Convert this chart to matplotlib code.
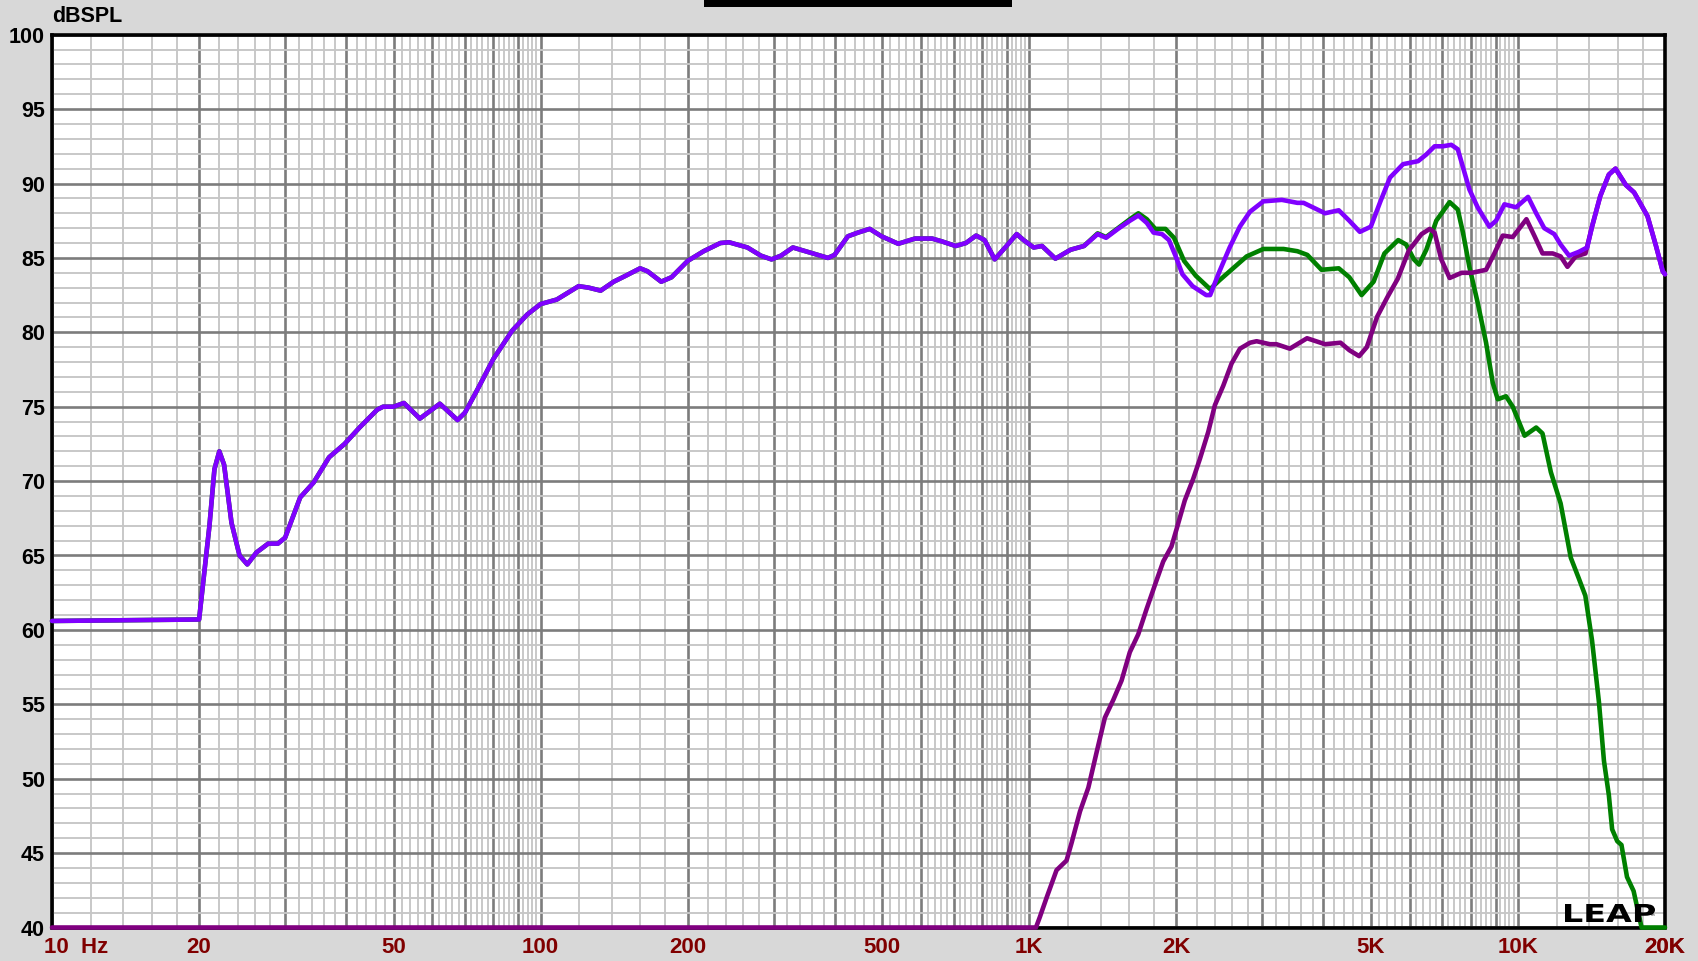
import numpy as np
import matplotlib
matplotlib.use('Agg')
import matplotlib.pyplot as plt
from matplotlib.ticker import FixedLocator, FixedFormatter, NullFormatter
from matplotlib.textpath import TextPath
from matplotlib.font_manager import FontProperties
from matplotlib.patches import PathPatch, Rectangle
from matplotlib.transforms import Affine2D

# system sum (violet)
sum_f = np.array([10, 19.9, 20.0, 21.0, 21.5, 22.0, 22.5, 23.3, 24.2, 25.1, 26.2, 27.7, 29.0, 30,
                  30.8, 32.2, 34.3, 36.9, 39.7, 42.6, 46.3, 47.6, 50, 52.5, 56.6, 62.2, 67.6, 70,
                  74.1, 80, 87.4, 93.9, 100, 107.9, 113, 119.6, 125.4, 132.7, 141.1, 149.3, 159.8,
                  165.5, 176.5, 185.3, 200, 215.6, 233.3, 242.9, 265, 282.3, 296.8, 310.4, 328.3,
                  352.3, 387.2, 399.5, 425.3, 446, 471.4, 498.6, 539.3, 583.8, 632.4, 663.7, 706.9,
                  741.9, 778.4, 810, 849.6, 898.2, 942.5, 973.4, 1021, 1062, 1131, 1215, 1294,
                  1380, 1436, 1519, 1607, 1672, 1740, 1796, 1869, 1931, 1994, 2058, 2159, 2302,
                  2345, 2451, 2571, 2697, 2829, 3013, 3288, 3537, 3642, 4030, 4299, 4518, 4748,
                  5000, 5232, 5474, 5821, 6246, 6495, 6754, 7022, 7305, 7533, 7956, 8272, 8742,
                  9023, 9385, 9915, 10490, 10900, 11320, 11870, 12230, 12730, 13310, 13860, 14180,
                  14740, 15350, 15840, 16630, 17290, 17710, 18420, 19170, 19790, 20000])
sum_db = np.array([60.6, 60.7, 60.7, 67.0, 70.8, 72.0, 71.1, 67.2, 65.0, 64.4, 65.2, 65.8, 65.8, 66.2,
                   67.2, 68.9, 69.9, 71.6, 72.5, 73.6, 74.8, 75.0, 75.0, 75.25, 74.2, 75.2, 74.1, 74.6,
                   76.1, 78.2, 80.1, 81.2, 81.9, 82.2, 82.6, 83.1, 83.0, 82.8, 83.4, 83.8, 84.3,
                   84.1, 83.4, 83.7, 84.8, 85.45, 86.0, 86.05, 85.7, 85.15, 84.9, 85.15, 85.7,
                   85.4, 85.0, 85.2, 86.45, 86.7, 86.95, 86.45, 85.95, 86.3, 86.3, 86.1, 85.8,
                   86.0, 86.5, 86.2, 84.9, 85.8, 86.6, 86.2, 85.7, 85.8, 84.95, 85.55, 85.8,
                   86.6, 86.35, 86.95, 87.5, 87.85, 87.35, 86.7, 86.6, 86.2, 85.1, 83.9, 83.1, 82.5,
                   82.5, 84.1, 85.7, 87.1, 88.1, 88.8, 88.9, 88.7, 88.7, 88.0, 88.2, 87.5, 86.75,
                   87.1, 88.8, 90.4, 91.3, 91.5, 91.95, 92.5, 92.5, 92.6, 92.3, 89.6, 88.4, 87.1,
                   87.5, 88.6, 88.4, 89.1, 88.0, 87.0, 86.6, 85.9, 85.15, 85.4, 85.7, 87.1,
                   89.15, 90.6, 91.0, 89.9, 89.4, 88.8, 87.8, 85.8, 84.1, 83.9])

# woofer (green), upper part -- below 1.3K it runs under the sum
woof_hi_f = np.array([1380, 1436, 1519, 1607, 1672, 1740, 1811, 1900, 1978, 2074, 2192, 2345, 2451,
                      2571, 2785, 3013, 3315, 3537, 3708, 3963, 4299, 4518, 4787, 5066, 5331, 5689,
                      5905, 6126, 6275, 6495, 6807, 7248, 7533, 7719, 7956, 8272, 8607, 8883, 9094,
                      9455, 9760, 10320, 10900, 11230, 11680, 12230, 12830, 13310, 13740, 14180,
                      14650, 15000, 15350, 15590, 15970, 16290, 16720, 17250, 17910, 20000])
woof_hi_db = np.array([86.65, 86.4, 87.0, 87.6, 88.0, 87.6, 86.95, 86.95, 86.35, 84.8, 83.8, 82.9, 83.5,
                       84.1, 85.1, 85.6, 85.6, 85.45, 85.2, 84.2, 84.3, 83.7, 82.5, 83.4, 85.3, 86.2,
                       85.9, 84.9, 84.55, 85.55, 87.5, 88.75, 88.25, 86.7, 84.4, 82.0, 79.3, 76.6, 75.5,
                       75.7, 75.0, 73.05, 73.6, 73.2, 70.6, 68.5, 64.85, 63.5, 62.3, 59.3,
                       55.15, 51.2, 48.9, 46.6, 45.8, 45.55, 43.4, 42.45, 40.0, 40.0])

# tweeter (purple), above 14K it runs under the sum
tw_f = np.array([10, 1032, 1051, 1085, 1137, 1192, 1221, 1270, 1321, 1374, 1428, 1486, 1545, 1606,
                 1671, 1738, 1807, 1880, 1954, 2003, 2081, 2165, 2235, 2324, 2398, 2494, 2594, 2699,
                 2830, 2919, 3107, 3205, 3414, 3576, 3702, 4030, 4335, 4518, 4732, 4906, 5152, 5414,
                 5677, 5981, 6351, 6600, 6754, 6969, 7248, 7672, 8052, 8607, 8950, 9310, 9760,
                 10410, 10820, 11230, 11780, 12230, 12630, 13130, 13750])
tw_db = np.array([40, 40, 40.7, 42.0, 43.85, 44.5, 45.7, 47.8, 49.4, 51.8, 54.1, 55.3, 56.6, 58.5,
                  59.7, 61.4, 63.0, 64.6, 65.6, 66.8, 68.7, 70.15, 71.5, 73.3, 75.1, 76.4, 77.9, 78.9,
                  79.3, 79.4, 79.2, 79.2, 78.9, 79.3, 79.6, 79.2, 79.3, 78.8, 78.4, 79.0, 81.05, 82.4,
                  83.6, 85.5, 86.6, 86.95, 86.7, 84.9, 83.65, 84.0, 84.0, 84.2, 85.3, 86.5, 86.4,
                  87.6, 86.45, 85.3, 85.3, 85.1, 84.4, 85.1, 85.3])

woof_f = np.concatenate([sum_f[sum_f <= 1294], woof_hi_f])
woof_db = np.concatenate([sum_db[sum_f <= 1294], woof_hi_db])
tw_f = np.concatenate([tw_f, sum_f[sum_f >= 14180]])
tw_db = np.concatenate([tw_db, sum_db[sum_f >= 14180]])

x_ticks = [20, 50, 100, 200, 500, 1000, 2000, 5000, 10000, 20000]
x_labels = ['20', '50', '100', '200', '500', '1K', '2K', '5K', '10K', '20K']

# grid positions: dark every k*10^n, light every 0.2*10^n in between
major_x = []
minor_x = []
for dec in [10, 100, 1000, 10000]:
    for k in range(1, 10):
        if k * dec <= 20000:
            major_x.append(k * dec)
        for j in range(1, 5):
            v = (k + 0.2 * j) * dec
            if v < 20000:
                minor_x.append(v)
major_x.append(20000)

fig = plt.figure(figsize=(16.98, 9.61), dpi=100)
fig.patch.set_facecolor('#d8d8d8')
ax = fig.add_axes([52 / 1698, 1 - 927.5 / 961, (1665 - 52) / 1698, (927.5 - 34.7) / 961])
ax.set_facecolor('white')
ax.set_xscale('log')
ax.set_xlim(10, 20000)
ax.set_ylim(40, 100)

lbl = {t: l for t, l in zip(x_ticks, x_labels)}
ax.xaxis.set_major_locator(FixedLocator(major_x))
ax.xaxis.set_major_formatter(FixedFormatter([lbl.get(v, '') for v in major_x]))
ax.xaxis.set_minor_locator(FixedLocator(minor_x))
ax.xaxis.set_minor_formatter(NullFormatter())
ax.yaxis.set_major_locator(FixedLocator(range(40, 101, 5)))
ax.yaxis.set_minor_locator(FixedLocator(range(40, 101, 1)))
ax.yaxis.set_minor_formatter(NullFormatter())

ax.grid(which='minor', color='#c6c6c6', lw=1.35)
ax.grid(which='major', color='#7c7c7c', lw=1.9)
ax.set_axisbelow(True)
ax.tick_params(which='both', length=0)
ax.tick_params(axis='x', pad=7, labelsize=16, labelcolor='#800000')
ax.tick_params(axis='y', pad=5, labelsize=15.5, labelcolor='black')
for t in ax.get_xticklabels() + ax.get_yticklabels():
    t.set_fontfamily('Liberation Sans')
    t.set_fontweight('bold')
for s in ax.spines.values():
    s.set_linewidth(2.6)
    s.set_color('black')

kw = dict(lw=3.3, clip_on=False, solid_joinstyle='round', solid_capstyle='round')
ax.plot(woof_f, woof_db, color='#008000', zorder=3, **kw)
ax.plot(tw_f, tw_db, color='#800080', zorder=3, **kw)
ax.plot(sum_f, sum_db, color='#8000ff', zorder=4, **kw)

ax.annotate('10  Hz', xy=(10, 0), xycoords=('data', 'axes fraction'), xytext=(-6, -7),
            textcoords='offset points', ha='left', va='top', fontsize=16,
            family='Liberation Sans', weight='bold', color='#800000')
fig.text(52 / 1698, 1 - 17 / 961, 'dBSPL', ha='left', va='center', fontsize=15.5,
         family='Liberation Sans', weight='bold')

# leftover of the title bar at the top
fig.add_artist(Rectangle((704, 961 - 7), 308, 8, transform=None, color='black', lw=0))

# LEAP logo
tp = TextPath((0, 0), 'LEAP', prop=FontProperties(family='DejaVu Sans', weight='bold'))
bb = tp.get_extents()
tr = Affine2D().translate(-bb.x0, -bb.y0).scale(90 / bb.width, 18 / bb.height).translate(1565, 961 - 922)
fig.add_artist(PathPatch(tr.transform_path(tp), transform=None, color='black', lw=0, zorder=10))
fig.text(1652 / 1698, 1 - 917 / 961, '\u2122', fontsize=4, ha='center', va='center')

fig.savefig('out.png', dpi=100, facecolor=fig.get_facecolor())
